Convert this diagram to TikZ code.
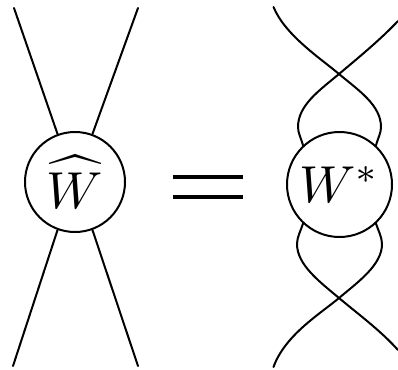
\documentclass[tikz,border=0pt]{standalone}
\usepackage{amsmath}
\usepackage{graphicx}
\usetikzlibrary{calc}
\tikzset{
  blob/.style={circle,draw,line width=2pt,inner sep=0pt,minimum size=#1},
  wire/.style={line width=2pt,line cap=round},
  eqbar/.style={line width=4.2pt}
}
\begin{document}
\begin{tikzpicture}[x=1pt,y=-1pt]
\useasboundingbox (0,0) rectangle (398,369);
\node[blob=100pt] (L) at (75,182) {\raisebox{-3pt}{\scalebox{5.2}{$\widehat{W}$}}};
\node[blob=105pt] (R) at (339.5,184.5) {\scalebox{5.2}{$W^{*}$}};
% left wires
\coordinate (ltl) at (14,8);
\coordinate (ltr) at (138,8);
\coordinate (lbl) at (13,366);
\coordinate (lbr) at (138,366);
\draw[wire] (ltl) -- (L.110);
\draw[wire] (ltr) -- (L.70);
\draw[wire] (lbl) -- (L.250);
\draw[wire] (lbr) -- (L.290);
% equals
\coordinate (e1a) at (173,177);
\coordinate (e1b) at (243,177);
\coordinate (e2a) at (173,197);
\coordinate (e2b) at (243,197);
\draw[eqbar] (e1a) -- (e1b);
\draw[eqbar] (e2a) -- (e2b);
% right wires
\coordinate (rtl) at (273.5,7);
\coordinate (rtr) at (398,21);
\coordinate (rbl) at (273.5,367);
\coordinate (rbr) at (398,350);
\draw[wire] (rtl) .. controls (285,35) and (320,58) .. (339,74)
  .. controls (358,90) and (381,105) .. (381,127)
  .. controls (381,133) and (378,138) .. (R.47);
\draw[wire] (rtr) .. controls (380,40) and (358,58) .. (339,74)
  .. controls (320,90) and (298,105) .. (298,127)
  .. controls (298,133) and (301,138) .. (R.133);
\draw[wire] (rbl) .. controls (285,335) and (320,314) .. (339,298)
  .. controls (358,282) and (382,265) .. (382,244)
  .. controls (382,237) and (378,230) .. (R.313);
\draw[wire] (rbr) .. controls (380,330) and (358,314) .. (339,298)
  .. controls (320,282) and (297,265) .. (297,244)
  .. controls (297,237) and (301,230) .. (R.227);
\end{tikzpicture}
\end{document}
